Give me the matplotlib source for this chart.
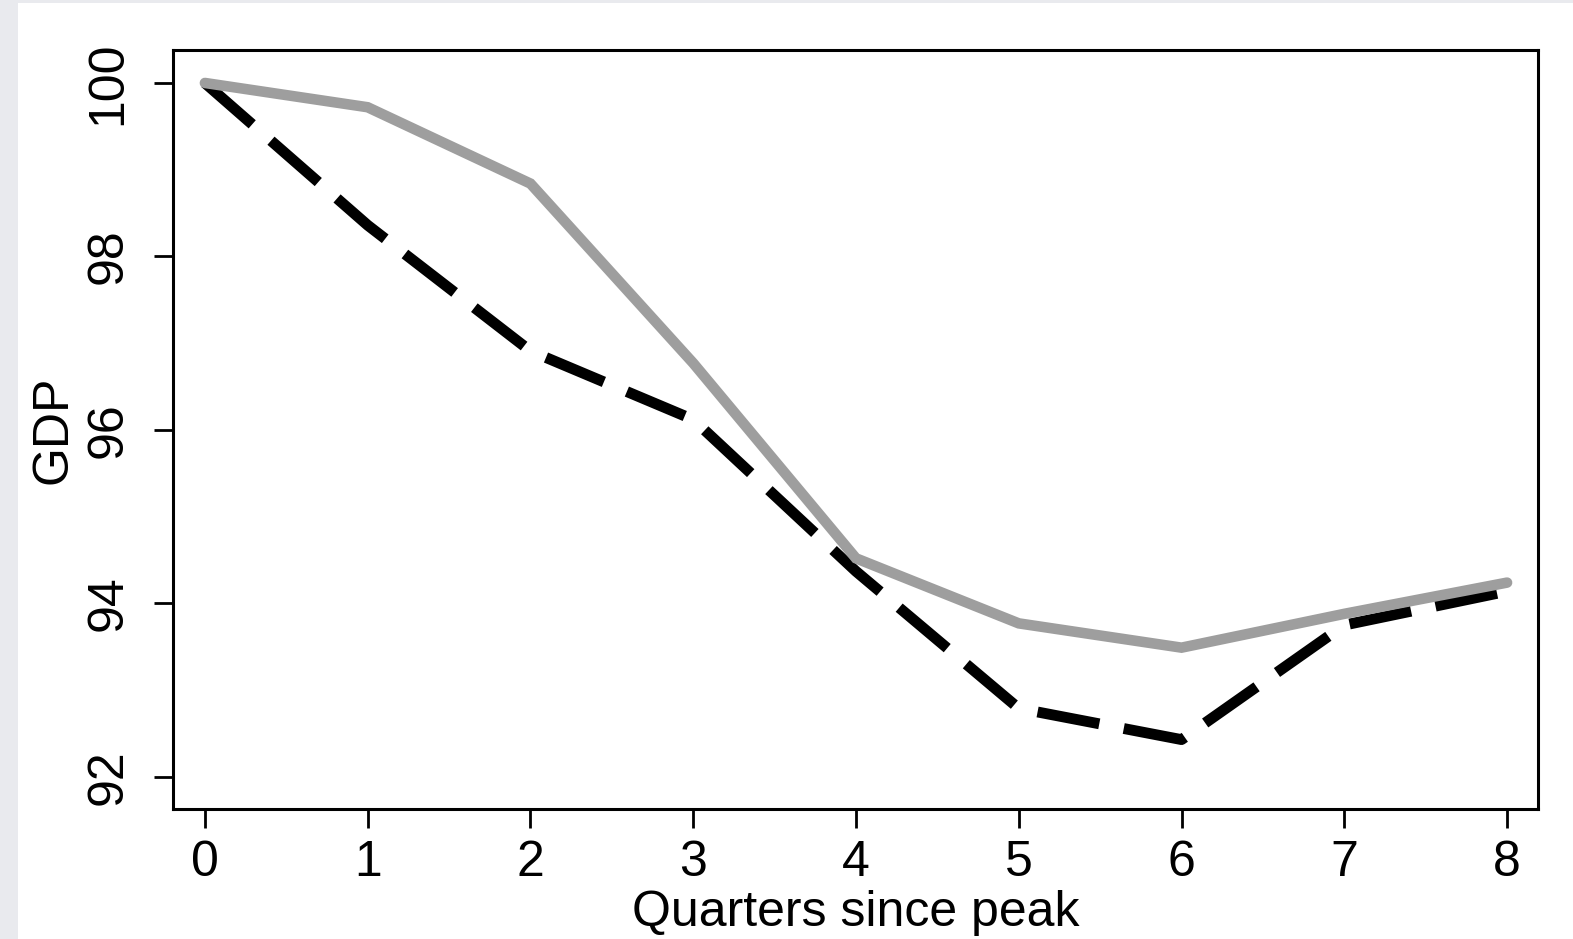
import numpy as np
import matplotlib
matplotlib.use("Agg")
import matplotlib.pyplot as plt
from matplotlib.patches import Rectangle

# values
quarters = [0, 1, 2, 3, 4, 5, 6, 7, 8]
gdp_grey = [100.0, 99.72, 98.84, 96.77, 94.52, 93.77, 93.49, 93.88, 94.24]
gdp_black = [100.0, 98.36, 96.91, 96.12, 94.37, 92.79, 92.43, 93.75, 94.14]
y_ticks = [92, 94, 96, 98, 100]

plt.rcParams['font.family'] = ['Liberation Sans', 'DejaVu Sans']

W, H = 1573, 939
fig = plt.figure(figsize=(W / 100, H / 100), dpi=100)
fig.patch.set_facecolor('#e9eaee')
fig.patches.append(Rectangle((18 / W, 0), 1 - 18 / W, 1 - 3 / H,
                             transform=fig.transFigure, facecolor='white',
                             edgecolor='none', zorder=-5))

ax = fig.add_axes([173 / W, 1 - 809 / H, (1538 - 173) / W, (809 - 50) / H])
ax.set_zorder(2)
ax.set_facecolor('white')

ax.plot(quarters, gdp_black, color='black', lw=7.8, linestyle=(0, (5.8, 2.3)),
        dash_capstyle='butt', zorder=2)
ax.plot(quarters, gdp_grey, color='#9e9e9e', lw=7.6, solid_capstyle='round',
        solid_joinstyle='miter', zorder=3)

ax.set_xlim(-0.196, 8.19)
ax.set_ylim(91.63, 100.38)
ax.set_xticks(quarters)
ax.set_yticks(y_ticks)

for s in ax.spines.values():
    s.set_linewidth(2.2)

ax.tick_params(axis='both', length=14, width=2, labelsize=36, color='black')
ax.tick_params(axis='x', pad=8)
ax.tick_params(axis='y', pad=16, labelrotation=90)
for lbl in ax.get_yticklabels():
    lbl.set_va('center')

ax.set_xlabel('Quarters since peak', fontsize=36, labelpad=3)
ax.set_ylabel('GDP', fontsize=36, labelpad=6)

fig.savefig('out.png', dpi=100)
